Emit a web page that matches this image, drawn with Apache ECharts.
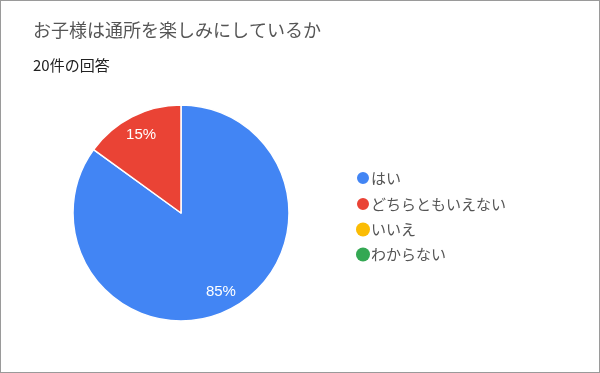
<!DOCTYPE html>
<html>
<head>
<meta charset="utf-8">
<script src="https://cdn.jsdelivr.net/npm/echarts@6/dist/echarts.min.js"></script>
<style>
html,body{margin:0;padding:0;background:#fff;}
#c{width:600px;height:373px;box-sizing:border-box;border:1px solid #9a9a9a;}
</style>
</head>
<body>
<div id="c"></div>
<script>
const titleText = 'お子様は通所を楽しみにしているか';
const subtitleText = '20件の回答';
const categories = ['はい', 'どちらともいえない', 'いいえ', 'わからない'];
const counts = [17, 3, 0, 0];
const colors = ['#4285f4', '#ea4335', '#fbbc04', '#34a853'];

const FONT = '"Noto Sans CJK JP", "Noto Sans", sans-serif';
const chart = echarts.init(document.getElementById('c'), null, {renderer: 'canvas'});

const data = categories.map((n, i) => ({
  name: n,
  value: counts[i],
  itemStyle: {color: colors[i], borderWidth: counts[i] > 0 ? 1.5 : 0}
}));

chart.setOption({
  animation: false,
  title: [
    {text: titleText, left: 27, top: 15,
     textStyle: {fontFamily: FONT, fontSize: 18, fontWeight: 'normal', color: '#555'}},
    {text: subtitleText, left: 27, top: 52,
     textStyle: {fontFamily: FONT, fontSize: 15, fontWeight: 'normal', color: '#222'}}
  ],
  legend: {
    orient: 'vertical',
    left: 349, top: 164,
    itemGap: 10,
    itemWidth: 14, itemHeight: 14,
    icon: 'circle',
    textStyle: {fontFamily: FONT, fontSize: 15, color: '#555', padding: [0, 0, 0, -4]},
    data: categories
  },
  series: [
    {
      type: 'pie',
      center: [180, 212],
      radius: [0, 108],
      startAngle: 90,
      clockwise: true,
      label: {show: false},
      labelLine: {show: false},
      emphasis: {disabled: true},
      itemStyle: {borderColor: '#fff', borderWidth: 1.5},
      data: data
    },
    {
      type: 'pie',
      center: [180, 212],
      radius: [62, 108],
      startAngle: 90,
      clockwise: true,
      silent: true,
      legendHoverLink: false,
      emphasis: {disabled: true},
      itemStyle: {color: 'rgba(0,0,0,0)', borderWidth: 0},
      label: {
        show: true, position: 'inside',
        fontFamily: '"Liberation Sans", Arial, sans-serif', fontSize: 15, color: '#fff',
        formatter: p => p.value > 0 ? Math.round(p.percent) + '%' : ''
      },
      labelLine: {show: false},
      data: categories.map((n, i) => ({name: n + ' ', value: counts[i]}))
    }
  ]
});
</script>
</body>
</html>
